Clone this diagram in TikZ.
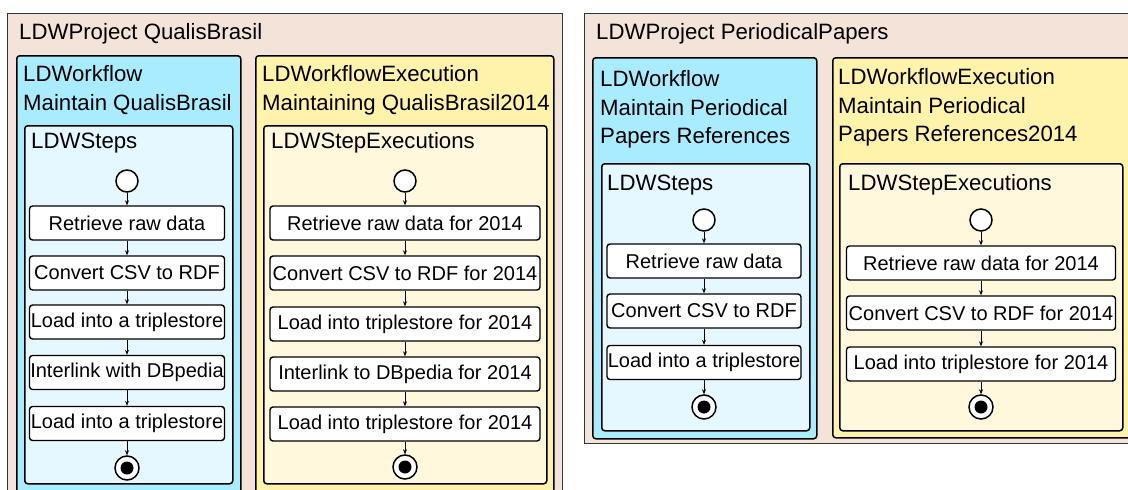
\documentclass[tikz,border=0pt]{standalone}
\usepackage{fontspec}
\setmainfont{Liberation Sans}
\usetikzlibrary{arrows.meta}
\definecolor{projfill}{RGB}{243,227,217}
\definecolor{wffill}{RGB}{170,236,255}
\definecolor{stepsfill}{RGB}{229,248,255}
\definecolor{exfill}{RGB}{255,242,170}
\definecolor{sexfill}{RGB}{255,248,221}
\tikzset{
  projbox/.style={draw=black!80, line width=0.9pt, fill=projfill, rectangle, inner sep=0pt, anchor=north west},
  wfbox/.style={draw=black, line width=1.5pt, fill=wffill, rounded corners=3pt, rectangle, inner sep=0pt, anchor=north west},
  stepsbox/.style={draw=black, line width=1.5pt, fill=stepsfill, rounded corners=3pt, rectangle, inner sep=0pt, anchor=north west},
  exbox/.style={draw=black, line width=1.5pt, fill=exfill, rounded corners=3pt, rectangle, inner sep=0pt, anchor=north west},
  sexbox/.style={draw=black, line width=1.5pt, fill=sexfill, rounded corners=3pt, rectangle, inner sep=0pt, anchor=north west},
  title/.style={anchor=north west, inner sep=0pt, align=left, font=\fontsize{22.2}{28.5}\selectfont},
  stepbox/.style={draw=black, line width=1.4pt, fill=white, rounded corners=3pt, rectangle, inner sep=0pt, minimum height=34pt, font=\fontsize{20}{23}\selectfont},
  startnode/.style={draw=black, line width=1.5pt, fill=white, circle, inner sep=0pt, minimum size=22pt},
  endnode/.style={draw=black, line width=1.5pt, fill=white, circle, inner sep=0pt, minimum size=24pt},
  flow/.style={draw=black, line width=0.7pt, -{Stealth[length=5pt,width=4pt]}},
}
\begin{document}
\begin{tikzpicture}[x=1pt,y=-1pt]
\useasboundingbox (0,0) rectangle (1128,490);
\fill[white] (0,0) rectangle (1128,490);
\clip (0,0) rectangle (1128,490);

% ---------- Project 1 ----------
\node[projbox, minimum width=555pt, minimum height=500pt] (p1) at (7,13) {};
\node[title] (p1t) at (19,23.5) {LDWProject QualisBrasil};
\node[wfbox, minimum width=224pt, minimum height=460pt] (w1) at (16,55) {};
\node[title] (w1t) at (23,65.5) {LDWorkflow\\Maintain QualisBrasil};
\node[stepsbox, minimum width=208pt, minimum height=358pt] (s1) at (24,125) {};
\node[title] (s1t) at (31,132.5) {LDWSteps};

\node[exbox, minimum width=298pt, minimum height=460pt] (e1) at (255,55) {};
\node[title] (e1t) at (262,65.5) {LDWorkflowExecution\\Maintaining QualisBrasil2014};
\node[sexbox, minimum width=283pt, minimum height=358pt] (se1) at (263,125) {};
\node[title] (se1t) at (271,132.5) {LDWStepExecutions};

% steps column 1
\node[startnode] (a0) at (127,181) {};
\node[stepbox, minimum width=195pt] (a1) at (127,223) {Retrieve raw data};
\node[stepbox, minimum width=195pt] (a2) at (127,273) {Convert CSV to RDF};
\node[stepbox, minimum width=195pt] (a3) at (127,322) {Load into a triplestore};
\node[stepbox, minimum width=195pt] (a4) at (127,372.5) {Interlink with DBpedia};
\node[stepbox, minimum width=195pt] (a5) at (127,423.5) {Load into a triplestore};
\node[endnode] (a6) at (127,468) {};
\fill (a6) circle (6.5pt);
\foreach \i/\j in {a0/a1,a1/a2,a2/a3,a3/a4,a4/a5,a5/a6} \draw[flow] (\i) -- (\j);

% exec column 1
\node[startnode] (b0) at (405,181) {};
\node[stepbox, minimum width=270pt] (b1) at (405,223) {Retrieve raw data for 2014};
\node[stepbox, minimum width=270pt] (b2) at (405,273) {Convert CSV to RDF for 2014};
\node[stepbox, minimum width=270pt] (b3) at (405,324) {Load into triplestore for 2014};
\node[stepbox, minimum width=270pt] (b4) at (405,374) {Interlink to DBpedia for 2014};
\node[stepbox, minimum width=270pt] (b5) at (405,424) {Load into triplestore for 2014};
\node[endnode] (b6) at (405,467) {};
\fill (b6) circle (6.5pt);
\foreach \i/\j in {b0/b1,b1/b2,b2/b3,b3/b4,b4/b5,b5/b6} \draw[flow] (\i) -- (\j);

% ---------- Project 2 ----------
\node[projbox, minimum width=560pt, minimum height=430pt] (p2) at (584,13) {};
\node[title] (p2t) at (596,23.5) {LDWProject PeriodicalPapers};
\node[wfbox, minimum width=224pt, minimum height=381pt] (w2) at (592,57) {};
\node[title] (w2t) at (600,70.5) {LDWorkflow\\Maintain Periodical\\Papers References};
\node[stepsbox, minimum width=208pt, minimum height=267pt] (s2) at (601,163) {};
\node[title] (s2t) at (607,174.5) {LDWSteps};

\node[exbox, minimum width=310pt, minimum height=380pt] (e2) at (832,57) {};
\node[title] (e2t) at (838,68.5) {LDWorkflowExecution\\Maintain Periodical\\Papers References2014};
\node[sexbox, minimum width=283pt, minimum height=267pt] (se2) at (839,163) {};
\node[title] (se2t) at (848,174.5) {LDWStepExecutions};

% steps column 2
\node[startnode] (c0) at (704,220) {};
\node[stepbox, minimum width=194pt] (c1) at (704,261) {Retrieve raw data};
\node[stepbox, minimum width=194pt] (c2) at (704,311) {Convert CSV to RDF};
\node[stepbox, minimum width=194pt] (c3) at (704,362.5) {Load into a triplestore};
\node[endnode] (c4) at (704,407) {};
\fill (c4) circle (6.5pt);
\foreach \i/\j in {c0/c1,c1/c2,c2/c3,c3/c4} \draw[flow] (\i) -- (\j);

% exec column 2
\node[startnode] (d0) at (981,220) {};
\node[stepbox, minimum width=269pt] (d1) at (981,263) {Retrieve raw data for 2014};
\node[stepbox, minimum width=269pt] (d2) at (981,313) {Convert CSV to RDF for 2014};
\node[stepbox, minimum width=269pt] (d3) at (981,364) {Load into triplestore for 2014};
\node[endnode] (d4) at (981,407) {};
\fill (d4) circle (6.5pt);
\foreach \i/\j in {d0/d1,d1/d2,d2/d3,d3/d4} \draw[flow] (\i) -- (\j);
\end{tikzpicture}
\end{document}
